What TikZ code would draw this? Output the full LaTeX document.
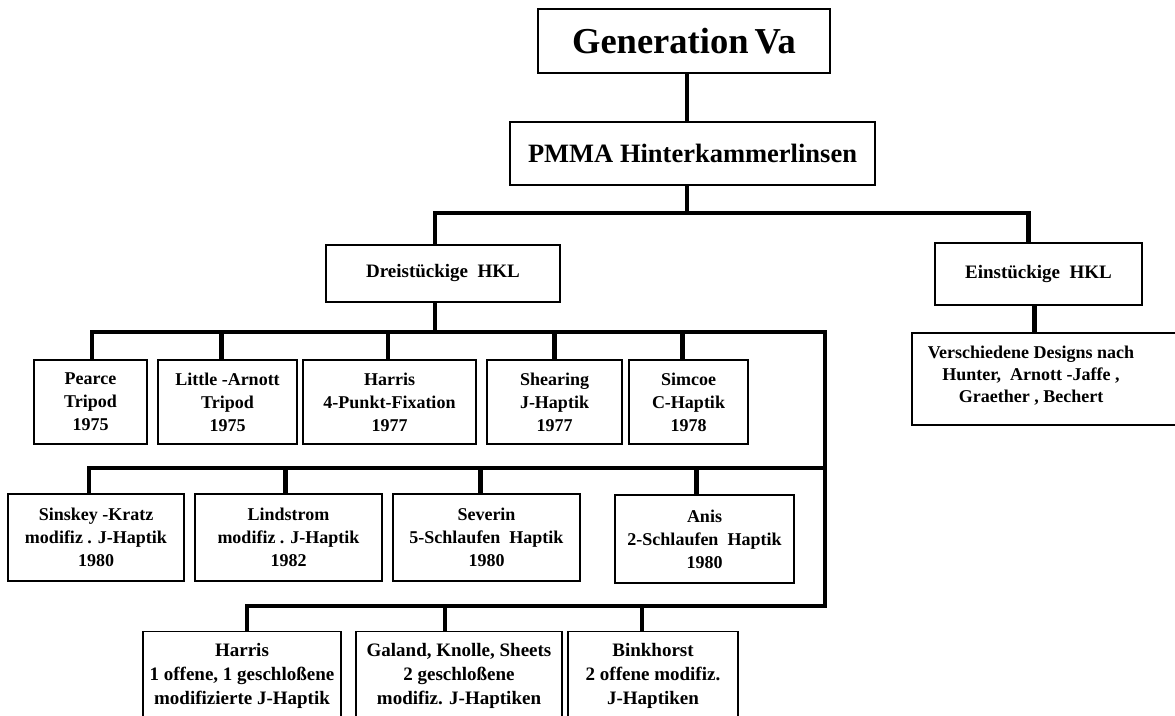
\documentclass[tikz,border=0pt]{standalone}
\usepackage{fontspec}
\setmainfont{Liberation Serif}
\begin{document}
\begin{tikzpicture}[x=1pt,y=-1pt,
  box/.style={draw, line width=1.6pt, inner sep=0pt, align=center,
    font=\fontsize{18}{23}\selectfont\bfseries},
  lowbox/.style={box, font=\fontsize{19}{24}\selectfont\bfseries},
  conn/.style={line width=4.5pt, line join=miter}]
\path[use as bounding box] (0,0) rectangle (1175,715);
\clip (0,0) rectangle (1175,715);
% top levels
\node[box, minimum width=292pt, minimum height=64pt, font=\fontsize{36.5}{40}\selectfont\bfseries] (gen) at (684,41) {Generation\,Va};
\node[box, minimum width=365pt, minimum height=63pt, font=\fontsize{26.5}{30}\selectfont\bfseries] (pmma) at (692.5,153.5) {PMMA Hinterkammerlinsen};
\node[box, minimum width=234pt, minimum height=57pt, font=\fontsize{19}{23}\selectfont\bfseries] (drei) at (443,273.5) {Dreistückige\ \ HKL};
\node[box, minimum width=207pt, minimum height=62pt, font=\fontsize{19}{23}\selectfont\bfseries] (ein) at (1038.5,274) {Einstückige\ \ HKL};
\node[box, minimum width=273pt, minimum height=92pt] (vbox) at (1048.5,379) {};
\node[align=center, inner sep=0pt, font=\fontsize{18}{22}\selectfont\bfseries] (vtext) at (1031,376) {Verschiedene Designs nach\\Hunter,\ \ Arnott -Jaffe ,\\Graether , Bechert};
% row 1
\node[box, minimum width=113pt, minimum height=84pt] (pearce) at (90.5,402) {Pearce\\Tripod\\1975};
\node[box, minimum width=139pt, minimum height=84pt] (little) at (227.5,402) {Little -Arnott\\Tripod\\1975};
\node[box, minimum width=173pt, minimum height=84pt] (harris) at (389.5,402) {Harris\\4-Punkt-Fixation\\1977};
\node[box, minimum width=135pt, minimum height=84pt] (shearing) at (554.5,402) {Shearing\\J-Haptik\\1977};
\node[box, minimum width=119pt, minimum height=84pt] (simcoe) at (688.5,402) {Simcoe\\C-Haptik\\1978};
% row 2
\node[box, minimum width=176pt, minimum height=87pt] (sinskey) at (96,537.5) {Sinskey -Kratz\\modifiz . J-Haptik\\1980};
\node[box, minimum width=187pt, minimum height=87pt] (lindstrom) at (288.5,537.5) {Lindstrom\\modifiz . J-Haptik\\1982};
\node[box, minimum width=187pt, minimum height=87pt] (severin) at (486.5,537.5) {Severin\\5-Schlaufen\ \ Haptik\\1980};
\node[box, minimum width=179pt, minimum height=88pt] (anis) at (704.5,539) {Anis\\2-Schlaufen\ \ Haptik\\1980};
% row 3
\node[lowbox, minimum width=198pt, minimum height=88pt] (harrisb) at (242,675.5) {Harris\\1 offene, 1 geschloßene\\modifizierte J-Haptik};
\node[lowbox, minimum width=206pt, minimum height=88pt] (galand) at (459,675.5) {Galand, Knolle, Sheets\\2 geschloßene\\modifiz. J-Haptiken};
\node[lowbox, minimum width=170pt, minimum height=88pt] (binkhorst) at (653,675.5) {Binkhorst\\2 offene modifiz.\\J-Haptiken};
% bus coordinates
\coordinate (b0) at (687,213);
\coordinate (sp1) at (825,332);
\coordinate (sp2) at (825,468);
\coordinate (sp3) at (825,606);
% connectors
\draw[conn] ([xshift=3pt]gen.south) -- ([xshift=3pt]gen.south |- pmma.north);
\draw[conn] (pmma.south -| b0) -- (b0);
\draw[conn] ([xshift=-8pt]drei.north) |- (b0) -| ([xshift=-10pt]ein.north);
\draw[conn] ([xshift=-4pt]ein.south) -- ([xshift=-4pt]ein.south |- vbox.north);
\draw[conn] ([xshift=-8pt]drei.south) -- ([xshift=-8pt]drei.south |- sp1);
\draw[conn] ([xshift=1.5pt]pearce.north) |- (sp1) -- (sp3) -| ([xshift=5pt]harrisb.north);
\draw[conn] ([xshift=-6pt]little.north) -- ([xshift=-6pt]little.north |- sp1);
\draw[conn] ([xshift=-1.5pt]harris.north) -- ([xshift=-1.5pt]harris.north |- sp1);
\draw[conn] (shearing.north) -- (shearing.north |- sp1);
\draw[conn] ([xshift=-6pt]simcoe.north) -- ([xshift=-6pt]simcoe.north |- sp1);
\draw[conn] ([xshift=-7pt]sinskey.north) |- (sp2);
\draw[conn] ([xshift=-3pt]lindstrom.north) -- ([xshift=-3pt]lindstrom.north |- sp2);
\draw[conn] ([xshift=-6pt]severin.north) -- ([xshift=-6pt]severin.north |- sp2);
\draw[conn] ([xshift=-8pt]anis.north) -- ([xshift=-8pt]anis.north |- sp2);
\draw[conn] ([xshift=-14pt]galand.north) -- ([xshift=-14pt]galand.north |- sp3);
\draw[conn] ([xshift=-11pt]binkhorst.north) -- ([xshift=-11pt]binkhorst.north |- sp3);
\end{tikzpicture}
\end{document}
